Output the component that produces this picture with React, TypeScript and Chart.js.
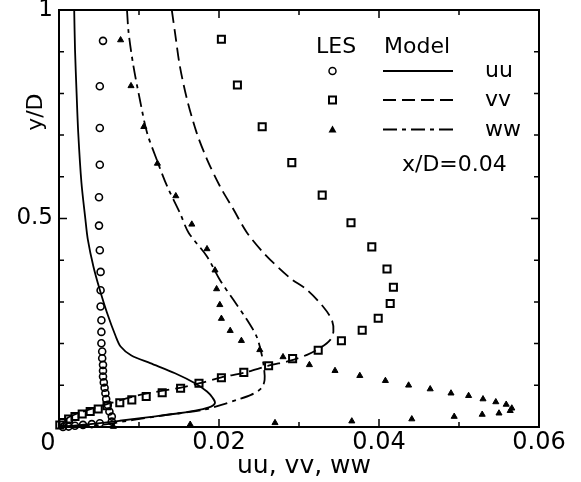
import React, { useEffect, useRef } from 'react';
import { Chart, registerables } from 'chart.js';

Chart.register(...registerables);

// ---------- data ----------
const X_TICK_LABELS = ['0', '0.02', '0.04', '0.06'];
const Y_TICK_LABELS = ['0.5', '1'];
const X_TITLE = 'uu, vv, ww';
const Y_TITLE = 'y/D';
const LEGEND_HEAD = ['LES', 'Model'];
const LEGEND_NAMES = ['uu', 'vv', 'ww'];
const ANNOTATION = 'x/D=0.04';

// LES symbols [x, y]
const lesUU: [number, number][] = [
  [0.0055, 0.926], [0.0051, 0.817], [0.0051, 0.717], [0.0051, 0.629], [0.005, 0.551],
  [0.005, 0.483], [0.0051, 0.424], [0.0052, 0.372], [0.0052, 0.328], [0.0052, 0.289],
  [0.0053, 0.256], [0.0053, 0.228], [0.0053, 0.201], [0.0054, 0.181], [0.0054, 0.165],
  [0.0055, 0.149], [0.0055, 0.135], [0.0055, 0.121], [0.0056, 0.107], [0.0057, 0.094],
  [0.0058, 0.081], [0.0059, 0.067], [0.0061, 0.053], [0.0063, 0.037], [0.0066, 0.025],
  [0.0066, 0.013], [0.0051, 0.009], [0.0041, 0.007], [0.003, 0.005], [0.002, 0.003],
  [0.0012, 0.001], [0.0005, 0.0],
];
const lesVV: [number, number][] = [
  [0.0203, 0.93], [0.0223, 0.82], [0.0254, 0.72], [0.0291, 0.634], [0.0329, 0.556],
  [0.0365, 0.49], [0.0391, 0.432], [0.041, 0.379], [0.0418, 0.335], [0.0414, 0.296],
  [0.0399, 0.261], [0.0379, 0.232], [0.0353, 0.207], [0.0324, 0.184], [0.0292, 0.164],
  [0.0262, 0.147], [0.0231, 0.131], [0.0203, 0.118], [0.0175, 0.105], [0.0152, 0.093],
  [0.0129, 0.082], [0.0109, 0.073], [0.0091, 0.065], [0.0076, 0.058], [0.006, 0.051],
  [0.0049, 0.043], [0.0039, 0.037], [0.0029, 0.031], [0.002, 0.025], [0.0012, 0.019],
  [0.0005, 0.011], [0.0001, 0.005],
];
const lesWW: [number, number][] = [
  [0.0077, 0.928], [0.009, 0.818], [0.0106, 0.72], [0.0123, 0.632], [0.0146, 0.554],
  [0.0166, 0.486], [0.0185, 0.427], [0.0195, 0.376], [0.0197, 0.331], [0.0201, 0.293],
  [0.0203, 0.26], [0.0214, 0.231], [0.0228, 0.207], [0.0251, 0.185], [0.028, 0.168],
  [0.0313, 0.149], [0.0345, 0.135], [0.0376, 0.123], [0.0408, 0.111], [0.0437, 0.1],
  [0.0464, 0.091], [0.049, 0.081], [0.0512, 0.075], [0.053, 0.067], [0.0546, 0.06],
  [0.0559, 0.054], [0.0566, 0.045], [0.0564, 0.039], [0.055, 0.033], [0.0529, 0.03],
  [0.0494, 0.025], [0.0441, 0.019], [0.0366, 0.014], [0.027, 0.01], [0.0164, 0.006],
  [0.0068, 0.001],
];

// Model curves [x, y]
const modelUU: [number, number][] = [
  [0.0019, 1.0], [0.002, 0.906], [0.0022, 0.8], [0.0024, 0.707], [0.0028, 0.587],
  [0.0033, 0.498], [0.0036, 0.45], [0.0043, 0.385], [0.0051, 0.329], [0.006, 0.274],
  [0.0071, 0.217], [0.0077, 0.193], [0.009, 0.172], [0.0114, 0.153], [0.0145, 0.129],
  [0.017, 0.105], [0.0185, 0.085], [0.0192, 0.07], [0.0195, 0.058], [0.019, 0.049],
  [0.0175, 0.041], [0.015, 0.033], [0.0118, 0.025], [0.0076, 0.015], [0.0035, 0.006],
  [0.0, 0.0],
];
const modelVV: [number, number][] = [
  [0.0141, 1.0], [0.0145, 0.946], [0.0151, 0.866], [0.016, 0.786], [0.0172, 0.706],
  [0.0185, 0.642], [0.0201, 0.578], [0.0218, 0.522], [0.0235, 0.466], [0.0258, 0.413],
  [0.0289, 0.357], [0.031, 0.329], [0.033, 0.289], [0.0341, 0.257], [0.0343, 0.229],
  [0.0339, 0.209], [0.0326, 0.189], [0.031, 0.173], [0.0289, 0.159], [0.0262, 0.147],
  [0.0233, 0.131], [0.0203, 0.119], [0.0176, 0.105], [0.0151, 0.094], [0.0101, 0.077],
  [0.0064, 0.057], [0.003, 0.037], [0.001, 0.021], [0.0, 0.0],
];
const modelWW: [number, number][] = [
  [0.0085, 1.0], [0.0087, 0.946], [0.0093, 0.866], [0.0101, 0.786], [0.011, 0.706],
  [0.0122, 0.642], [0.0135, 0.578], [0.0151, 0.514], [0.0162, 0.466], [0.0185, 0.409],
  [0.0201, 0.353], [0.0218, 0.305], [0.0235, 0.257], [0.0247, 0.217], [0.0253, 0.177],
  [0.0256, 0.145], [0.0257, 0.113], [0.0253, 0.093], [0.024, 0.077], [0.0222, 0.065],
  [0.0203, 0.053], [0.018, 0.041], [0.0135, 0.029], [0.0093, 0.017], [0.0051, 0.005],
  [0.0, 0.0],
];

// ---------- style ----------
const FONT = '"DejaVu Sans", sans-serif';
const DASH_VV = [13, 6];
const DASH_WW = [14, 5, 4, 5];

const toXY = (arr: [number, number][]) => arr.map(([x, y]) => ({ x, y }));

const labelFor = (labels: string[], v: number) => {
  const hit = labels.find((l) => Math.abs(Number(l) - v) < 1e-9);
  return hit === undefined ? '' : hit;
};

const decorPlugin = {
  id: 'decor',
  afterDraw(chart: any) {
    const { ctx, chartArea } = chart;
    const xs = chart.scales.x;
    const ys = chart.scales.y;
    const { left, right, top, bottom } = chartArea;
    ctx.save();
    ctx.strokeStyle = '#000';
    ctx.fillStyle = '#000';
    // frame
    ctx.lineWidth = 2;
    ctx.strokeRect(left, top, right - left, bottom - top);
    // inward tick marks
    ctx.lineWidth = 1.5;
    ctx.beginPath();
    for (let i = 0; i <= 6; i++) {
      const px = xs.getPixelForValue(i * 0.01);
      const len = i % 2 === 0 ? 8 : 5;
      ctx.moveTo(px, bottom);
      ctx.lineTo(px, bottom - len);
      ctx.moveTo(px, top);
      ctx.lineTo(px, top + len);
    }
    for (let i = 0; i <= 10; i++) {
      const py = ys.getPixelForValue(i * 0.1);
      const len = i % 5 === 0 ? 8 : 5;
      ctx.moveTo(left, py);
      ctx.lineTo(left + len, py);
      ctx.moveTo(right, py);
      ctx.lineTo(right - len, py);
    }
    ctx.stroke();

    // corner zero label
    ctx.font = `24px ${FONT}`;
    ctx.textAlign = 'center';
    ctx.textBaseline = 'alphabetic';
    ctx.fillText(X_TICK_LABELS[0], left - 11, bottom + 23);

    // axis titles
    ctx.font = `25px ${FONT}`;
    ctx.textAlign = 'center';
    ctx.textBaseline = 'alphabetic';
    ctx.fillText(X_TITLE, (left + right) / 2 + 5, 473);
    ctx.save();
    ctx.translate(42, ys.getPixelForValue(0.755));
    ctx.rotate(-Math.PI / 2);
    ctx.font = `22px ${FONT}`;
    ctx.fillText(Y_TITLE, 0, 0);
    ctx.restore();

    // legend
    ctx.font = `22px ${FONT}`;
    ctx.textAlign = 'left';
    ctx.textBaseline = 'alphabetic';
    ctx.fillText(LEGEND_HEAD[0], 316, 53);
    ctx.fillText(LEGEND_HEAD[1], 384, 53);
    const rows = [71, 100, 129.5];
    LEGEND_NAMES.forEach((n, i) => ctx.fillText(n, 485, rows[i] + 6));
    // symbols
    ctx.lineWidth = 1.5;
    ctx.beginPath();
    ctx.arc(332.5, rows[0], 3.5, 0, Math.PI * 2);
    ctx.stroke();
    ctx.lineWidth = 2;
    ctx.strokeRect(329, rows[1] - 3.5, 7, 7);
    ctx.beginPath();
    ctx.moveTo(332.5, rows[2] - 4);
    ctx.lineTo(336.5, rows[2] + 3);
    ctx.lineTo(328.5, rows[2] + 3);
    ctx.closePath();
    ctx.fill();
    // model line samples
    ctx.lineWidth = 1.8;
    const dashes = [[], DASH_VV, DASH_WW];
    rows.forEach((ry, i) => {
      ctx.setLineDash(dashes[i]);
      ctx.beginPath();
      ctx.moveTo(383, ry);
      ctx.lineTo(453, ry);
      ctx.stroke();
    });
    ctx.setLineDash([]);
    ctx.fillText(ANNOTATION, 402, 171);
    ctx.restore();
  },
};

export default function App() {
  const ref = useRef<HTMLCanvasElement | null>(null);
  useEffect(() => {
    if (!ref.current) return;
    const lineBase = {
      showLine: true,
      pointRadius: 0,
      borderColor: '#000',
      borderWidth: 1.8,
      tension: 0.3,
      fill: false,
      clip: false as any,
    };
    const chart = new Chart(ref.current, {
      type: 'scatter',
      data: {
        datasets: [
          { ...lineBase, label: 'Model uu', data: toXY(modelUU) },
          { ...lineBase, label: 'Model vv', data: toXY(modelVV), borderDash: DASH_VV },
          { ...lineBase, label: 'Model ww', data: toXY(modelWW), borderDash: DASH_WW },
          {
            label: 'LES uu', data: toXY(lesUU), pointStyle: 'circle', pointRadius: 3.5,
            borderWidth: 1.6, borderColor: '#000', backgroundColor: 'rgba(0,0,0,0)', clip: false as any,
          },
          {
            label: 'LES vv', data: toXY(lesVV), pointStyle: 'rect', pointRadius: 5,
            borderWidth: 2, borderColor: '#000', backgroundColor: 'rgba(0,0,0,0)', clip: false as any,
          },
          {
            label: 'LES ww', data: toXY(lesWW), pointStyle: 'triangle', pointRadius: 3.5,
            borderWidth: 1, borderColor: '#000', backgroundColor: '#000', clip: false as any,
          },
        ],
      },
      options: {
        animation: false,
        responsive: false,
        devicePixelRatio: 1,
        events: [],
        layout: { padding: { top: 10, right: 42, left: 0, bottom: 0 } },
        plugins: { legend: { display: false }, tooltip: { enabled: false }, title: { display: false } },
        scales: {
          x: {
            type: 'linear', min: 0, max: 0.06,
            grid: { display: false, drawTicks: false },
            border: { display: false },
            ticks: {
              stepSize: 0.02, padding: 1, color: '#000', maxRotation: 0,
              font: { family: FONT, size: 24 },
              callback: (v: any) => (Number(v) === 0 ? '' : labelFor(X_TICK_LABELS, Number(v))),
            },
            afterFit: (s: any) => { s.height = 55; s.paddingLeft = 0; s.paddingRight = 0; },
          },
          y: {
            type: 'linear', min: 0, max: 1,
            grid: { display: false, drawTicks: false },
            border: { display: false },
            ticks: {
              stepSize: 0.5, padding: 6, color: '#000',
              font: { family: FONT, size: 23 },
              callback: (v: any) => labelFor(Y_TICK_LABELS, Number(v)),
            },
            afterFit: (s: any) => { s.width = 59; s.paddingTop = 0; s.paddingBottom = 0; },
          },
        },
      },
      plugins: [decorPlugin],
    });
    return () => chart.destroy();
  }, []);
  return (
    <div style={{ position: 'absolute', left: 0, top: 0, width: 581, height: 482, background: '#fff' }}>
      <canvas ref={ref} width={581} height={482} style={{ display: 'block', width: 581, height: 482 }} />
    </div>
  );
}
